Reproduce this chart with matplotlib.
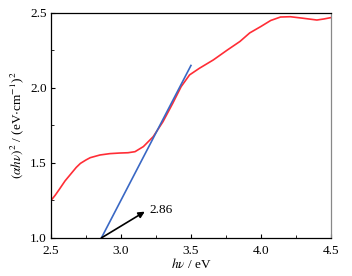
import matplotlib
matplotlib.use("Agg")
import matplotlib.pyplot as plt
from matplotlib.ticker import MultipleLocator

plt.rcParams['font.family'] = ['Liberation Serif', 'DejaVu Serif']
plt.rcParams['mathtext.fontset'] = 'stix'
plt.rcParams['font.size'] = 9.5

# Red curve: (αhν)^2 vs hν
curve_x = [2.50, 2.53, 2.56, 2.60, 2.64, 2.68, 2.71, 2.75, 2.78, 2.85, 2.92, 2.99, 3.05,
           3.10, 3.16, 3.23, 3.30, 3.37, 3.43, 3.49, 3.56, 3.66, 3.76, 3.85, 3.92, 4.00,
           4.07, 4.14, 4.21, 4.30, 4.40, 4.45, 4.50]
curve_y = [1.25, 1.285, 1.325, 1.38, 1.425, 1.47, 1.497, 1.52, 1.535, 1.553, 1.562, 1.566,
           1.568, 1.575, 1.609, 1.675, 1.775, 1.898, 2.009, 2.087, 2.131, 2.187, 2.253,
           2.31, 2.367, 2.41, 2.45, 2.473, 2.475, 2.465, 2.453, 2.46, 2.469]

# Tangent (blue) line
fit_x = [2.86, 3.50]
fit_y = [1.00, 2.15]

# Arrow annotation
band_gap = 2.86
arrow_tip = (3.17, 1.175)
label_text = "2.86"

xticks = [2.5, 3.0, 3.5, 4.0, 4.5]
yticks = [1.0, 1.5, 2.0, 2.5]

fig = plt.figure(figsize=(3.52, 2.76), dpi=100)
ax = fig.add_axes([0.145, 0.138, 0.795, 0.815])

ax.plot(curve_x, curve_y, color='#ff2d36', lw=1.2, solid_joinstyle='round')
ax.plot(fit_x, fit_y, color='#3a68c4', lw=1.2)

ax.annotate('', xy=arrow_tip, xytext=(band_gap, 1.0),
            arrowprops=dict(arrowstyle='-|>', color='black', lw=1.2,
                            mutation_scale=9, shrinkA=0, shrinkB=0))
ax.text(arrow_tip[0] + 0.03, arrow_tip[1] + 0.01, label_text, fontsize=9.5,
        ha='left', va='center')

ax.set_xlim(2.5, 4.5)
ax.set_ylim(1.0, 2.5)
ax.set_xticks(xticks)
ax.set_yticks(yticks)
ax.set_xticklabels([f"{t:.1f}" for t in xticks])
ax.set_yticklabels([f"{t:.1f}" for t in yticks])
ax.xaxis.set_minor_locator(MultipleLocator(0.25))
ax.yaxis.set_minor_locator(MultipleLocator(0.25))
ax.tick_params(which='both', direction='in', top=False, right=False)
ax.tick_params(axis='x', which='both', pad=5)
ax.tick_params(axis='y', which='both', pad=3)
ax.tick_params(which='major', length=3, width=0.8)
ax.tick_params(which='minor', length=2, width=0.6)
for s in ax.spines.values():
    s.set_linewidth(0.9)
ax.spines['right'].set_color('#888888')

ax.set_xlabel(r'$h\nu$ / eV', labelpad=0)
ax.set_ylabel(r'$(\alpha h\nu)^2$ / (eV$\cdot$cm$^{-1}$)$^2$', labelpad=3)

fig.savefig('out.png', dpi=100)
